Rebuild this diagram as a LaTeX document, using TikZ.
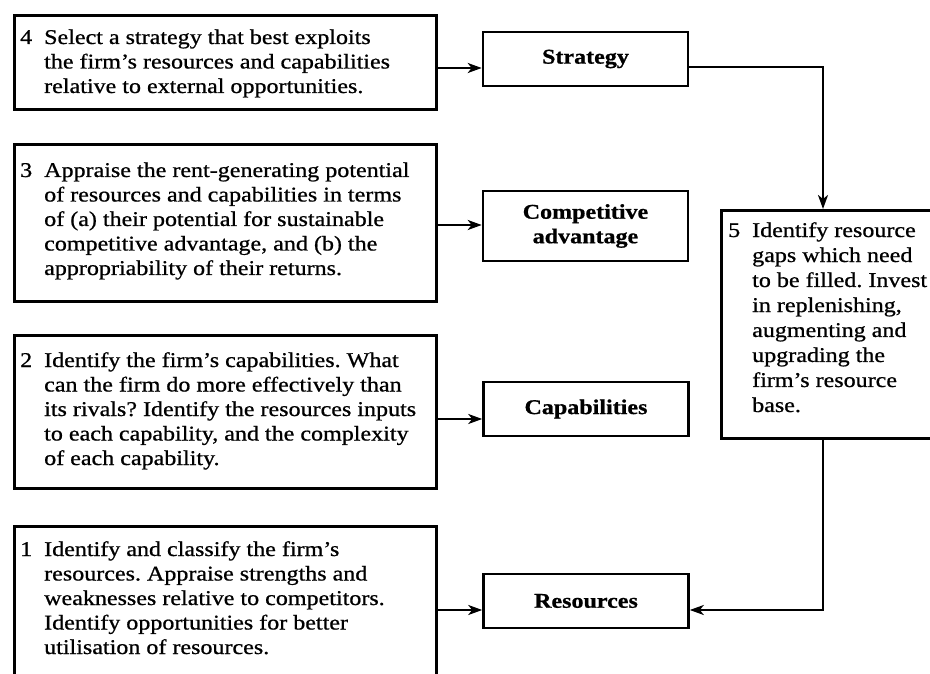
\documentclass[tikz,border=0pt]{standalone}
\usepackage{fontspec}
\setmainfont{Liberation Serif}[FakeStretch=1.145,
  UprightFeatures={FakeBold=0.8}, BoldFeatures={FakeBold=0.8}]
\usetikzlibrary{arrows.meta}
\newcommand\diagramsize{\fontsize{21pt}{24.5pt}\selectfont}
\begin{document}
\frenchspacing
\begin{tikzpicture}[x=1pt,y=-1pt,
  frame/.style={draw, line width=2.6pt, inner sep=0pt},
  stepbox/.style={frame, anchor=north west},
  titlebox/.style={frame, minimum width=205pt, minimum height=54pt,
    align=center, font=\diagramsize\bfseries},
  body/.style={inner sep=0pt, anchor=base west, font=\diagramsize},
  link/.style={line width=2.2pt, -{Stealth[length=14pt,width=10pt,inset=4pt]}},
]
\useasboundingbox (0,0) rectangle (930,674);
\clip (0,0) rectangle (930,674);

% step boxes on the left
\node[stepbox, minimum width=422pt, minimum height=94pt]  (b4) at (13,14)  {};
\node[stepbox, minimum width=422pt, minimum height=157pt] (b3) at (13,143) {};
\node[stepbox, minimum width=422pt, minimum height=153pt] (b2) at (13,334) {};
\node[stepbox, minimum width=422pt, minimum height=180pt] (b1) at (13,525) {};
% step 5 box on the right, running past the edge
\node[stepbox, minimum width=240pt, minimum height=228pt] (b5) at (720,209) {};

\node[body] (t4) at (20,44) {\begin{tabular}[t]{@{}p{24pt}@{}l@{}}
4 & Select a strategy that best exploits\\
  & the firm's resources and capabilities\\
  & relative to external opportunities.
\end{tabular}};
\node[body] (t3) at (20,177) {\begin{tabular}[t]{@{}p{24pt}@{}l@{}}
3 & Appraise the rent-generating potential\\
  & of resources and capabilities in terms\\
  & of (a) their potential for sustainable\\
  & competitive advantage, and (b) the\\
  & appropriability of their returns.
\end{tabular}};
\node[body] (t2) at (20,367) {\begin{tabular}[t]{@{}p{24pt}@{}l@{}}
2 & Identify the firm's capabilities. What\\
  & can the firm do more effectively than\\
  & its rivals? Identify the resources inputs\\
  & to each capability, and the complexity\\
  & of each capability.
\end{tabular}};
\node[body] (t1) at (20,556) {\begin{tabular}[t]{@{}p{24pt}@{}l@{}}
1 & Identify and classify the firm's\\
  & resources. Appraise strengths and\\
  & weaknesses relative to competitors.\\
  & Identify opportunities for better\\
  & utilisation of resources.
\end{tabular}};
\node[body] (t5) at (728,237) {\fontsize{21pt}{25pt}\selectfont
\begin{tabular}[t]{@{}p{24pt}@{}l@{}}
5 & Identify resource\\
  & gaps which need\\
  & to be filled. Invest\\
  & in replenishing,\\
  & augmenting and\\
  & upgrading the\\
  & firm's resource\\
  & base.
\end{tabular}};

% outcome boxes in the middle column
\node[titlebox] (strat) at (585.5,59) {Strategy};
\node[titlebox, minimum height=70pt] (adv) at (585.5,226) {Competitive\\advantage};
\node[titlebox] (cap) at (586,409) {Capabilities};
\node[titlebox] (res) at (586,601) {Resources};

% connectors
\draw[link] (b4.east |- 0,68)  -- (strat.west |- 0,68);
\draw[link] (b3.east |- 0,225) -- (adv.west |- 0,225);
\draw[link] (b2.east |- 0,419) -- (cap.west |- 0,419);
\draw[link] (b1.east |- 0,610) -- (res.west |- 0,610);
\draw[link] (strat.east |- 0,67) -| (b5.north -| 823,0);
\draw[link] (b5.south -| 823,0) |- (res.east |- 0,610);
\end{tikzpicture}
\end{document}
